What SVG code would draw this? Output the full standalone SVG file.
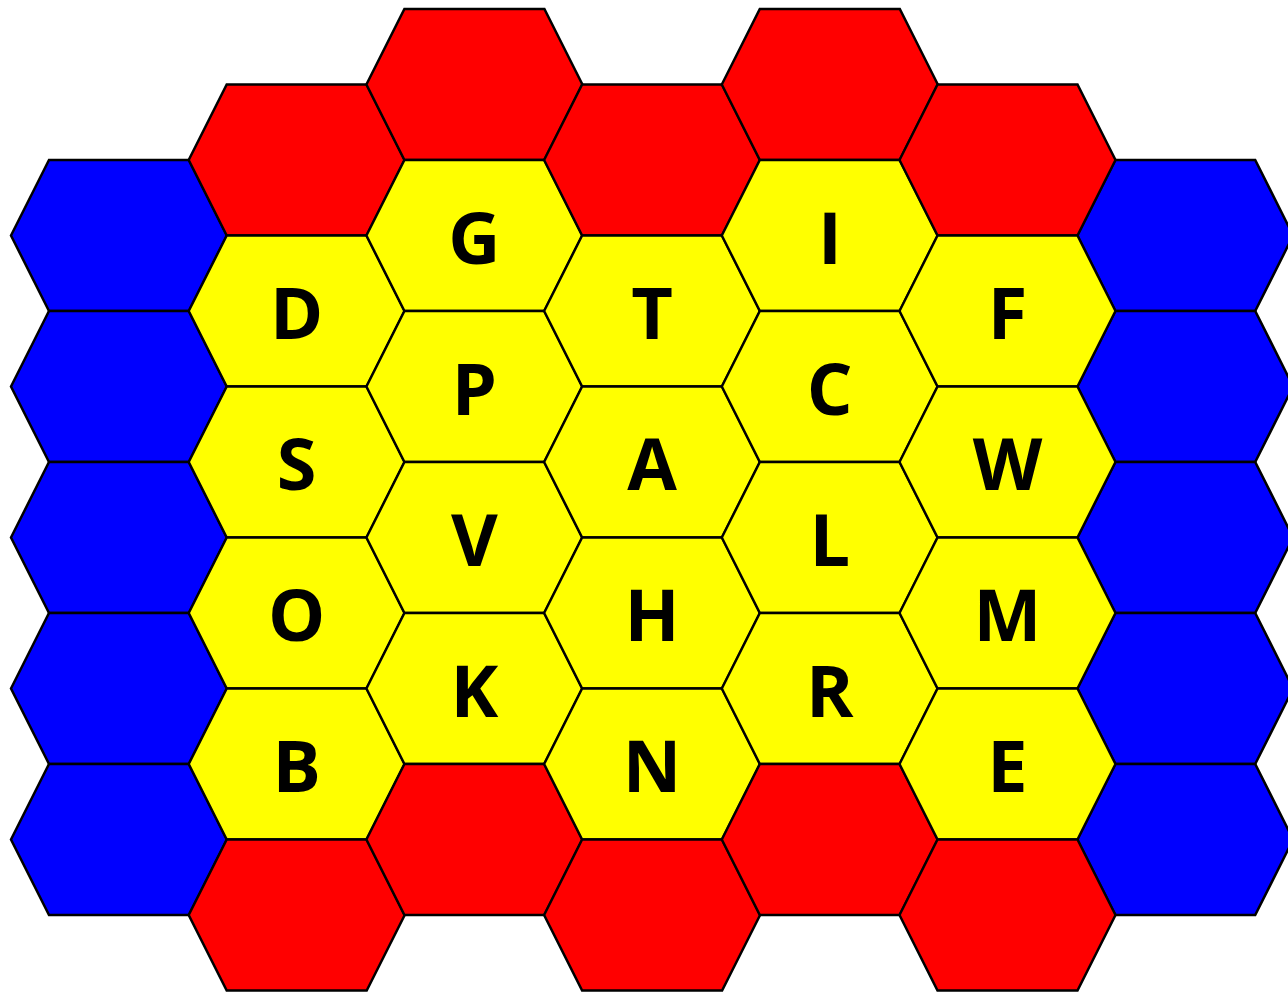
<svg xmlns="http://www.w3.org/2000/svg" xmlns:xlink="http://www.w3.org/1999/xlink" width="1288" height="993" viewBox="0 0 1288 993">
<style>
.r{fill:#FF0000}.y{fill:#FFFF00}.b{fill:#0000FF}
use{stroke:#000;stroke-width:2.5;stroke-linejoin:miter}
text{font-family:"Open Sans","Liberation Sans",sans-serif;font-weight:700;font-size:72px;text-anchor:middle;fill:#000}
</style>
<defs>
<polygon id="hex" points="-108,0 -70,-75.5 70,-75.5 108,0 70,75.5 -70,75.5"/>
</defs>
<rect width="1288" height="993" fill="#fff"/>
<g id="col0">
<use href="#hex" class="b" x="119" y="235.5"/>
<use href="#hex" class="b" x="119" y="386.5"/>
<use href="#hex" class="b" x="119" y="537.5"/>
<use href="#hex" class="b" x="119" y="688.5"/>
<use href="#hex" class="b" x="119" y="839.5"/>
</g>
<g id="col6">
<use href="#hex" class="b" x="1185.2" y="235.5"/>
<use href="#hex" class="b" x="1185.2" y="386.5"/>
<use href="#hex" class="b" x="1185.2" y="537.5"/>
<use href="#hex" class="b" x="1185.2" y="688.5"/>
<use href="#hex" class="b" x="1185.2" y="839.5"/>
</g>
<g id="col1">
<use href="#hex" class="r" x="296.7" y="160"/>
<g id="D"><use href="#hex" class="y" x="296.7" y="311"/><text x="296.7" y="339">D</text></g>
<g id="S"><use href="#hex" class="y" x="296.7" y="462"/><text x="296.7" y="490">S</text></g>
<g id="O"><use href="#hex" class="y" x="296.7" y="613"/><text x="296.7" y="641">O</text></g>
<g id="B"><use href="#hex" class="y" x="296.7" y="764"/><text x="296.7" y="792">B</text></g>
<use href="#hex" class="r" x="296.7" y="915"/>
</g>
<g id="col2">
<use href="#hex" class="r" x="474.4" y="84.5"/>
<g id="G"><use href="#hex" class="y" x="474.4" y="235.5"/><text x="474.4" y="263.5">G</text></g>
<g id="P"><use href="#hex" class="y" x="474.4" y="386.5"/><text x="474.4" y="414.5">P</text></g>
<g id="V"><use href="#hex" class="y" x="474.4" y="537.5"/><text x="474.4" y="565.5">V</text></g>
<g id="K"><use href="#hex" class="y" x="474.4" y="688.5"/><text x="474.4" y="716.5">K</text></g>
<use href="#hex" class="r" x="474.4" y="839.5"/>
</g>
<g id="col3">
<use href="#hex" class="r" x="652.1" y="160"/>
<g id="T"><use href="#hex" class="y" x="652.1" y="311"/><text x="652.1" y="339">T</text></g>
<g id="A"><use href="#hex" class="y" x="652.1" y="462"/><text x="652.1" y="490">A</text></g>
<g id="H"><use href="#hex" class="y" x="652.1" y="613"/><text x="652.1" y="641">H</text></g>
<g id="N"><use href="#hex" class="y" x="652.1" y="764"/><text x="652.1" y="792">N</text></g>
<use href="#hex" class="r" x="652.1" y="915"/>
</g>
<g id="col4">
<use href="#hex" class="r" x="829.8" y="84.5"/>
<g id="I"><use href="#hex" class="y" x="829.8" y="235.5"/><text x="829.8" y="263.5">I</text></g>
<g id="C"><use href="#hex" class="y" x="829.8" y="386.5"/><text x="829.8" y="414.5">C</text></g>
<g id="L"><use href="#hex" class="y" x="829.8" y="537.5"/><text x="829.8" y="565.5">L</text></g>
<g id="R"><use href="#hex" class="y" x="829.8" y="688.5"/><text x="829.8" y="716.5">R</text></g>
<use href="#hex" class="r" x="829.8" y="839.5"/>
</g>
<g id="col5">
<use href="#hex" class="r" x="1007.5" y="160"/>
<g id="F"><use href="#hex" class="y" x="1007.5" y="311"/><text x="1007.5" y="339">F</text></g>
<g id="W"><use href="#hex" class="y" x="1007.5" y="462"/><text x="1007.5" y="490">W</text></g>
<g id="M"><use href="#hex" class="y" x="1007.5" y="613"/><text x="1007.5" y="641">M</text></g>
<g id="E"><use href="#hex" class="y" x="1007.5" y="764"/><text x="1007.5" y="792">E</text></g>
<use href="#hex" class="r" x="1007.5" y="915"/>
</g>
<g id="connectors"/>
</svg>
